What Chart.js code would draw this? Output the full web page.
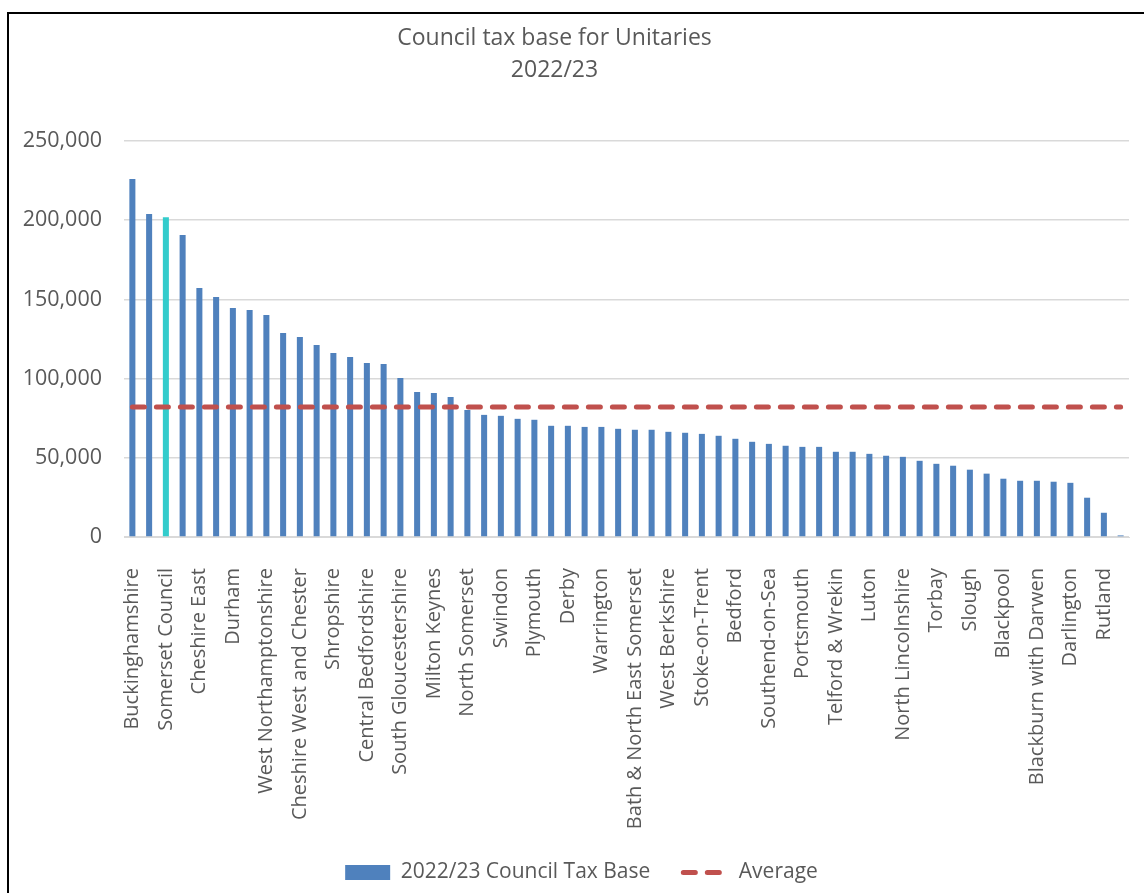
<!DOCTYPE html>
<html>
<head>
<meta charset="utf-8">
<title>Council tax base for Unitaries 2022/23</title>
<script src="https://cdn.jsdelivr.net/npm/chart.js@4.4.0/dist/chart.umd.min.js"></script>
<style>
  html, body { margin: 0; padding: 0; background: #fff; overflow: hidden; }
  #wrap { position: relative; width: 1144px; height: 893px; }
  #frame {
    position: absolute; left: 7px; top: 12px; width: 1200px; height: 1000px;
    border-left: 2px solid #000; border-top: 2px solid #000; pointer-events: none;
  }
</style>
</head>
<body>
<div id="wrap">
  <canvas id="taxBaseChart" width="1144" height="893"></canvas>
  <div id="frame"></div>
</div>
<script>
// --- Data ---
const categories = [
  "Buckinghamshire", "Cornwall", "Somerset Council", "Wiltshire", "Cheshire East",
  "Dorset", "Durham", "Bournemouth, Christchurch and Poole", "West Northamptonshire", "Bristol",
  "Cheshire West and Chester", "East Riding of Yorkshire", "Shropshire", "Northumberland", "Central Bedfordshire",
  "North Northamptonshire", "South Gloucestershire", "Brighton and Hove", "Milton Keynes", "Medway",
  "North Somerset", "Leicester", "Swindon", "Herefordshire", "Plymouth",
  "Wokingham", "Derby", "York", "Warrington", "Southampton",
  "Bath & North East Somerset", "Windsor and Maidenhead", "West Berkshire", "Nottingham", "Stoke-on-Trent",
  "Peterborough", "Bedford", "Kingston upon Hull", "Southend-on-Sea", "Reading",
  "Portsmouth", "Isle of Wight", "Telford & Wrekin", "Stockton-on-Tees", "Luton",
  "Thurrock", "North Lincolnshire", "Bracknell Forest", "Torbay", "North East Lincolnshire",
  "Slough", "Redcar and Cleveland", "Blackpool", "Halton", "Blackburn with Darwen",
  "Middlesbrough", "Darlington", "Hartlepool", "Rutland", "Isles of Scilly"
];

const taxBase = [
  226000, 203900, 201800, 190600, 157200,
  151500, 144600, 143300, 140100, 128800,
  126300, 121200, 116200, 113600, 109800,
  109200, 100400, 91500, 90900, 88400,
  80200, 77100, 76500, 74600, 74000,
  70200, 70200, 69500, 69500, 68300,
  67700, 67700, 66400, 65800, 65100,
  63900, 62000, 60100, 58800, 57600,
  56900, 56900, 53800, 53800, 52500,
  51300, 50600, 48100, 46200, 45000,
  42500, 40000, 36800, 35500, 35500,
  34900, 34200, 24800, 15300, 1000
];

const averageValue = 82000;
const averageLine = categories.map(() => averageValue);

const highlighted = "Somerset Council";

const yTickMax = 250000;
const yTickStep = 50000;

// --- Styles ---
const blue = "#4F81BD";
const teal = "#33CCCC";
const red = "#C0504D";
const textGrey = "#595959";

Chart.defaults.font.family = "'Open Sans', sans-serif";
Chart.defaults.font.size = 20;
Chart.defaults.color = textGrey;

// Excel puts the title a bit left and the legend a bit right of centre
const blockShift = {
  id: "blockShift",
  afterLayout(chart) {
    if (chart.titleBlock) {
      chart.titleBlock.left -= 20;
      chart.titleBlock.right -= 20;
    }
    if (chart.legend) {
      chart.legend.left += 7;
      chart.legend.right += 7;
    }
  }
};

const ctx = document.getElementById("taxBaseChart").getContext("2d");

new Chart(ctx, {
  type: "bar",
  data: {
    labels: categories,
    datasets: [
      {
        label: "2022/23 Council Tax Base",
        data: taxBase,
        backgroundColor: (c) => categories[c.dataIndex] === highlighted ? teal : blue,
        borderWidth: 0,
        categoryPercentage: 1,
        barPercentage: 0.36
      },
      {
        type: "line",
        label: "Average",
        data: averageLine,
        borderColor: red,
        backgroundColor: red,
        borderWidth: 5,
        borderDash: [12, 12],
        borderCapStyle: "round",
        pointRadius: 0,
        order: -1
      }
    ]
  },
  plugins: [blockShift],
  options: {
    responsive: false,
    animation: false,
    layout: { padding: { left: 20, right: 15, top: 0, bottom: 0 } },
    plugins: {
      title: {
        display: true,
        text: ["Council tax base for Unitaries", "2022/23"],
        color: textGrey,
        font: { size: 23, weight: "normal", lineHeight: 32 / 23 },
        padding: { top: 22, bottom: 55 }
      },
      legend: {
        position: "bottom",
        labels: {
          usePointStyle: true,
          pointStyleWidth: 45,
          boxHeight: 15,
          padding: 33,
          color: textGrey,
          font: { size: 21 },
          generateLabels(chart) {
            const items = Chart.defaults.plugins.legend.labels.generateLabels(chart);
            items.sort((a, b) => a.datasetIndex - b.datasetIndex);
            items.forEach((item) => {
              const ds = chart.data.datasets[item.datasetIndex];
              if (item.datasetIndex === 0) {
                item.pointStyle = "rect";
                item.fillStyle = blue;
                item.lineWidth = 0;
              } else {
                // point style would pick up the point options, so copy the line's own dash
                item.pointStyle = "line";
                item.strokeStyle = ds.borderColor;
                item.lineWidth = ds.borderWidth;
                item.lineDash = ds.borderDash;
                item.lineCap = ds.borderCapStyle;
              }
            });
            return items;
          }
        }
      },
      tooltip: { enabled: false }
    },
    scales: {
      x: {
        grid: { display: false },
        border: { color: "#D9D9D9" },
        ticks: {
          autoSkip: false,
          minRotation: 90,
          maxRotation: 90,
          padding: 23,
          color: textGrey,
          font: { size: 20 },
          callback: (value, index) => index % 2 === 0 ? categories[index] : ""
        },
        afterFit(scale) {
          scale.height = 292;
          scale.paddingLeft = 0;
          scale.paddingRight = 0;
        }
      },
      y: {
        min: 0,
        max: yTickMax,
        grid: { color: "#D9D9D9", lineWidth: 1.5, drawTicks: false },
        border: { display: false },
        ticks: {
          stepSize: yTickStep,
          padding: 22,
          color: textGrey,
          font: { size: 21.5 },
          callback: (value) => value.toLocaleString("en-GB")
        },
        afterFit(scale) { scale.width = 104; }
      }
    }
  }
});
</script>
</body>
</html>
